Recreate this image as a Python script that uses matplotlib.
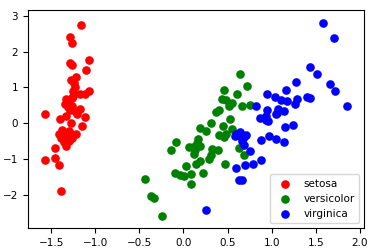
import matplotlib
matplotlib.use("Agg")
import matplotlib.pyplot as plt

# values
setosa_x = [-1.163, -1.284, -1.261, -1.068, -1.284, -1.269, -1.102, -1.216, -1.277, -1.242,
            -1.235, -1.068, -1.170, -1.121, -1.254, -1.326, -1.292, -1.341, -1.269, -1.174,
            -1.288, -1.208, -1.572, -1.114, -1.326, -1.398, -1.273, -1.152, -1.375, -1.409,
            -1.292, -1.326, -1.220, -1.383, -1.269, -1.352, -1.303, -1.326, -1.455, -1.568,
            -1.455, -1.409, -1.390, -1.307, -1.250, -1.300, -1.230, -1.280, -1.340, -1.260]
setosa_y = [2.74, 2.40, 2.23, 1.78, 1.68, 1.64, 1.50, 1.30, 1.22, 1.13,
            1.00, 0.89, 0.83, 0.81, 0.75, 0.67, 0.66, 0.55, 0.48, 0.39,
            0.36, 0.27, 0.27, 0.19, 0.21, 0.13, 0.02, -0.07, -0.18, -0.29,
            -0.22, -0.34, -0.29, -0.42, -0.40, -0.51, -0.49, -0.64, -0.70, -1.03,
            -0.98, -1.17, -1.90, 0.46, 0.90, 0.60, 0.35, -0.30, -0.45, 0.70]

versicolor_x = [0.636, 0.716, 0.458, 0.602, 0.439, 0.477, 0.545, 0.515, 0.659, 0.758,
                0.402, 0.371, 0.530, 0.314, 0.443, 0.182, 0.254, 0.545, 0.477, 0.398,
                0.455, 0.167, -0.083, 0.152, 0.106, 0.061, 0.189, 0.136, 0.326, 0.394,
                0.125, 0.307, 0.288, -0.140, 0.189, 0.144, 0.466, 0.027, 0.633, 0.682,
                -0.095, -0.042, 0.004, 0.091, 0.227, 0.091, -0.439, -0.367, -0.337, -0.239]
versicolor_y = [1.39, 1.03, 0.94, 0.82, 0.67, 0.64, 0.58, 0.48, 0.49, 0.52,
                0.38, 0.31, 0.13, 0.02, -0.08, -0.14, -0.22, -0.16, -0.29, -0.33,
                -0.38, -0.43, -0.53, -0.55, -0.66, -0.66, -0.62, -0.74, -0.71, -0.75,
                -0.85, -0.89, -0.99, -0.75, -1.05, -1.13, -1.13, -1.20, -0.68, -0.88,
                -1.39, -1.44, -1.48, -1.41, -1.38, -1.69, -1.55, -2.04, -2.08, -2.59]

virginica_x = [1.580, 1.705, 1.432, 1.511, 1.280, 1.663, 1.716, 1.167, 0.943, 1.034,
               1.110, 1.174, 1.284, 1.398, 1.436, 1.261, 1.852, 0.818, 0.951, 1.068,
               1.053, 1.136, 0.864, 0.939, 0.932, 0.962, 1.148, 1.239, 0.580, 0.636,
               0.636, 0.682, 0.705, 0.663, 0.966, 0.883, 1.045, 1.136, 0.682, 0.750,
               0.875, 0.784, 0.693, 0.591, 0.629, 0.659, 0.261, 0.600, 0.650, 1.060]
virginica_y = [2.79, 2.37, 1.58, 1.39, 1.14, 1.11, 0.91, 0.94, 0.83, 0.74,
               0.66, 0.61, 0.68, 0.74, 0.72, 0.53, 0.49, 0.47, 0.36, 0.40,
               0.27, 0.35, 0.16, 0.20, 0.08, 0.06, -0.09, -0.04, -0.34, -0.25,
               -0.36, -0.38, -0.32, -0.48, -0.36, -0.46, -0.43, -0.51, -0.60, -0.78,
               -1.03, -1.13, -1.17, -1.24, -1.57, -1.59, -2.43, -0.30, -0.33, 0.30]

plt.rcParams['font.size'] = 7.5

fig = plt.figure(figsize=(3.74, 2.52), dpi=100)
ax = fig.add_axes([0.074, 0.094, 0.90, 0.866])

ax.scatter(setosa_x, setosa_y, c='red', s=27, label='setosa')
ax.scatter(versicolor_x, versicolor_y, c='green', s=27, label='versicolor')
ax.scatter(virginica_x, virginica_y, c='blue', s=27, label='virginica')

ax.set_xlim(-1.766, 2.05)
ax.set_ylim(-2.93, 3.16)
ax.legend(loc='lower right')

fig.savefig("out.png", dpi=100)
